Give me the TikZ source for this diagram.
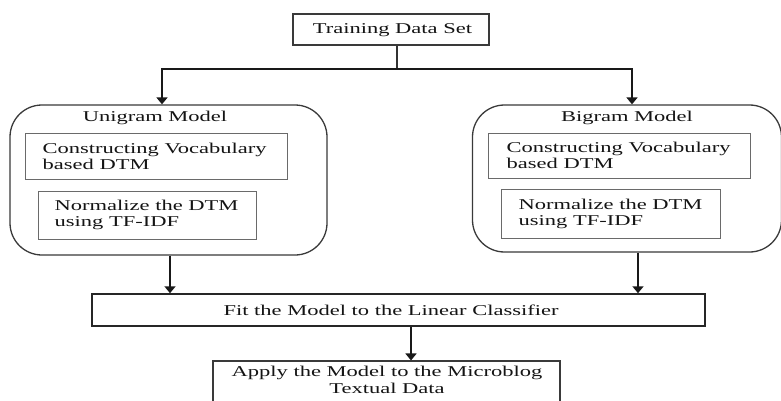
\documentclass[tikz,border=0pt]{standalone}
\usepackage{fontspec}
\setmainfont{Liberation Serif}[FakeStretch=1.5]
\usetikzlibrary{arrows.meta}
\definecolor{ink}{HTML}{141414}
\definecolor{frame}{HTML}{3A3A3A}
\definecolor{thin}{HTML}{6A6A6A}
\tikzset{
  box/.style={draw=frame, line width=1.1pt, rectangle, inner sep=0pt},
  mainbox/.style={draw=black!85, line width=1.5pt, rectangle, inner sep=0pt},
  inbox/.style={draw=thin, line width=1pt, rectangle, inner sep=0pt},
  model/.style={draw=frame, line width=1.3pt, rectangle, rounded corners=32pt, inner sep=0pt},
  txt/.style={text=ink, inner sep=0pt, font=\fontsize{15}{16}\selectfont},
  arr/.style={draw=black!90, line width=1.8pt, -{Triangle[width=11pt,length=7pt]}},
  link/.style={draw=black!80, line width=1.6pt},
}
\begin{document}
\begin{tikzpicture}[x=1pt,y=1pt]
\useasboundingbox (0,0) rectangle (781,-401);
\fill[white] (0,0) rectangle (781,-401);

% top box
\node[box, minimum width=196pt, minimum height=31pt] (train) at (391,-29.5) {};
\node[txt] at (392.5,-30) {Training Data Set};

% model containers
\node[model, minimum width=317pt, minimum height=150pt] (uni) at (168.5,-180) {};
\node[txt] (unit) at (155,-118) {Unigram Model};
\node[model, minimum width=309pt, minimum height=147pt] (bi) at (627,-178.5) {};
\node[txt] (bit) at (627,-118) {Bigram Model};

% steps inside the unigram model
\node[inbox, minimum width=262pt, minimum height=46pt] (u1) at (156,-156) {};
\node[txt, anchor=west, align=left] at ([xshift=18pt]u1.west) {Constructing Vocabulary\\based DTM};
\node[inbox, minimum width=218pt, minimum height=48pt] (u2) at (147,-215) {};
\node[txt, anchor=west, align=left] at ([xshift=17pt]u2.west) {Normalize the DTM\\using TF-IDF};

% steps inside the bigram model
\node[inbox, minimum width=262pt, minimum height=45pt] (b1) at (619,-155.5) {};
\node[txt, anchor=west, align=left] at ([xshift=19pt]b1.west) {Constructing Vocabulary\\based DTM};
\node[inbox, minimum width=219pt, minimum height=49pt] (b2) at (610.5,-213.5) {};
\node[txt, anchor=west, align=left] at ([xshift=18pt]b2.west) {Normalize the DTM\\using TF-IDF};

% classifier and application
\node[mainbox, minimum width=613pt, minimum height=32pt] (fit) at (398.5,-310) {};
\node[txt] at (391,-310.5) {Fit the Model to the Linear Classifier};
\node[box, minimum width=347pt, minimum height=44pt] (apply) at (386.5,-383) {};
\node[txt, align=center, font=\fontsize{15}{17}\selectfont] at (387,-380) {Apply the Model to the Microblog\\Textual Data};

% connectors
\coordinate (split) at (397,-69);
\draw[link] (train.south -| split) -- (split);
\draw[arr] (split) -| ([xshift=-6.5pt]uni.north);
\draw[arr] (split) -| ([xshift=5pt]bi.north);
\draw[arr] ([xshift=1.5pt]uni.south) -- ([xshift=1.5pt]uni.south |- fit.north);
\draw[arr] ([xshift=11pt]bi.south) -- ([xshift=11pt]bi.south |- fit.north);
\coordinate (ain) at ([xshift=24.5pt]apply.north);
\draw[arr] (fit.south -| ain) -- (ain);
\end{tikzpicture}
\end{document}
